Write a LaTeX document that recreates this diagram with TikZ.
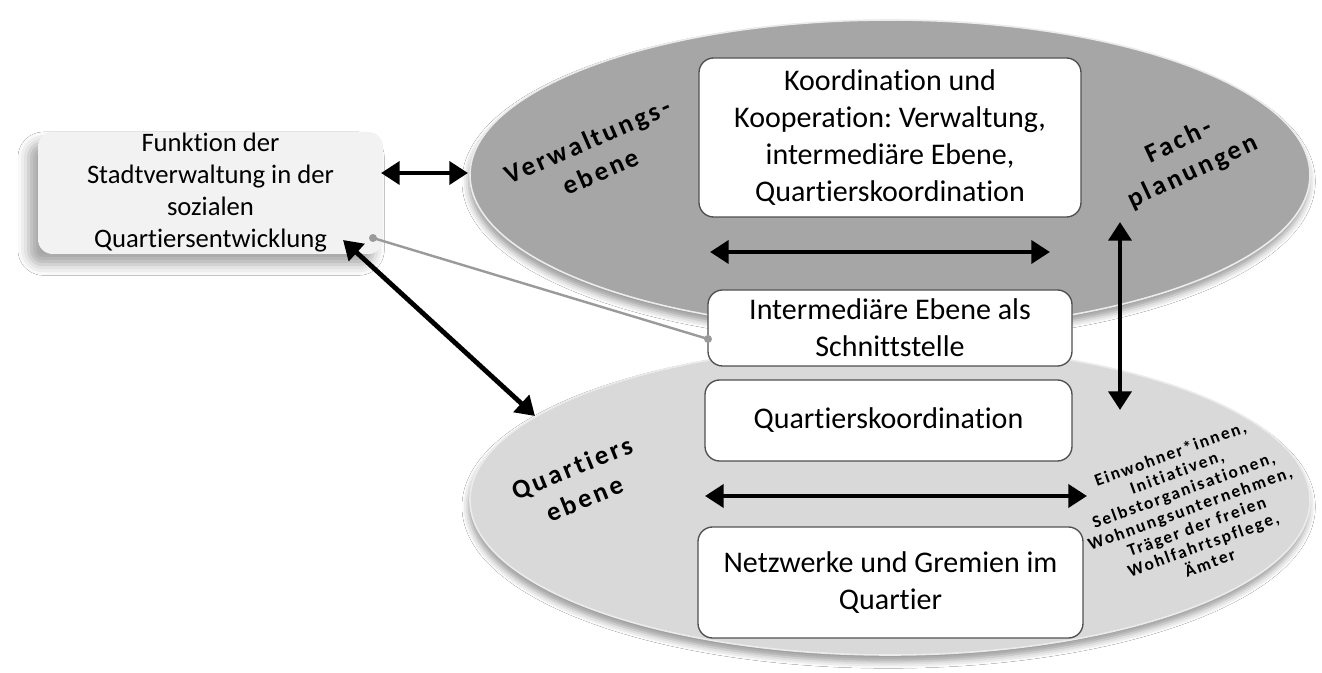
\documentclass[tikz,border=0pt]{standalone}
\usepackage{fontspec}
\setmainfont{Carlito}[Ligatures=NoCommon]
\newfontfamily\lblfont{Carlito}[LetterSpace=11,Ligatures=NoCommon]
\usetikzlibrary{shapes.geometric,arrows.meta,shadows.blur}
\definecolor{topell}{HTML}{A6A6A6}
\definecolor{botell}{HTML}{D9D9D9}
\definecolor{leftboxc}{HTML}{F2F2F2}
\definecolor{boxline}{HTML}{505050}
\definecolor{connc}{HTML}{9A9A9A}
\frenchspacing
\begin{document}
\begin{tikzpicture}[x=0.75pt,y=-0.75pt,
  ell/.style={ellipse, inner sep=0pt, draw=white!92!black, line width=1.2pt,
    blur shadow={shadow xshift=-1pt, shadow yshift=-5pt, shadow blur radius=5pt, shadow opacity=40}},
  wbox/.style={rectangle, rounded corners=11pt, draw=boxline, line width=1pt, fill=white,
    align=center, inner sep=0pt, font=\fontsize{22.5}{27.75}\selectfont},
  fbox/.style={rectangle, rounded corners=11pt, fill=leftboxc, align=center, inner sep=0pt,
    font=\fontsize{20}{24}\selectfont,
    blur shadow={shadow xshift=-7pt, shadow yshift=-8pt, shadow blur radius=8pt, shadow opacity=35}},
  lbl/.style={align=center, inner sep=0pt, font=\lblfont\bfseries\fontsize{20}{25}\selectfont},
  lst/.style={align=center, inner sep=0pt, font=\lblfont\bfseries\fontsize{13}{14.5}\selectfont},
  arr/.style={line width=3.6pt, {Triangle[length=14pt,width=17pt]}-{Triangle[length=14pt,width=17pt]}},
  conn/.style={draw=connc, line width=1.8pt}
]
\useasboundingbox (0,0) rectangle (1322,673);
\fill[white] (0,0) rectangle (1322,673);

% ellipses
\node[ell, fill=botell, minimum width=630pt, minimum height=232.5pt] (qell) at (890,500) {};
\node[ell, fill=topell, minimum width=630pt, minimum height=232.5pt] (vell) at (890,175) {};

% left box
\node[fbox, minimum width=258.75pt, minimum height=91.5pt] (funk) at (210.5,193)
  {Funktion der\\Stadtverwaltung in der\\sozialen\\Quartiersentwicklung};

% boxes
\node[wbox, minimum width=286.5pt, minimum height=119.25pt] (koord) at (890,137.5)
  {Koordination und\\Kooperation: Verwaltung,\\intermediäre Ebene,\\Quartierskoordination};
\node[wbox, minimum width=273pt, minimum height=57pt] (inter) at (890,328)
  {Intermediäre Ebene als\\Schnittstelle};
\node[wbox, minimum width=275.25pt, minimum height=60.75pt] (qk) at (888.5,420.5)
  {Quartierskoordination};
\node[wbox, minimum width=288.75pt, minimum height=83.25pt] (netz) at (890.5,582.5)
  {Netzwerke und Gremien im\\Quartier};

% labels
\node[lbl, rotate=23.5] (vlbl) at (594,156) {Verwaltungs-\\ebene};
\node[lbl, rotate=25] (flbl) at (1186,157) {Fach-\\planungen};
\node[lbl, rotate=22] (qlbl) at (578,483) {Quartiers\\ebene};
\node[lst, rotate=20] (list) at (1190,508)
  {Einwohner*innen,\\Initiativen,\\Selbstorganisationen,\\Wohnungsunternehmen,\\Träger der freien\\Wohlfahrtspflege,\\Ämter};

% arrow end points
\coordinate (a1) at (381,173);
\coordinate (a2) at (468,173);
\coordinate (d1) at (343,240);
\coordinate (d2) at (535,416);
\coordinate (h1) at (710,252);
\coordinate (h2) at (1050,252);
\coordinate (v1) at (1120,222);
\coordinate (v2) at (1120,410);
\coordinate (b1) at (705,496);
\coordinate (b2) at (1087,496);
\coordinate (g1) at (373,238);
\coordinate (g2) at (708,339);

\draw[arr] (a1) -- (a2);
\draw[arr] (d1) -- (d2);
\draw[arr] (h1) -- (h2);
\draw[arr] (v1) -- (v2);
\draw[arr] (b1) -- (b2);

\draw[conn] (g1) -- (g2);
\fill[connc] (g1) circle (3pt);
\fill[connc] (g2) circle (3pt);
\end{tikzpicture}
\end{document}
